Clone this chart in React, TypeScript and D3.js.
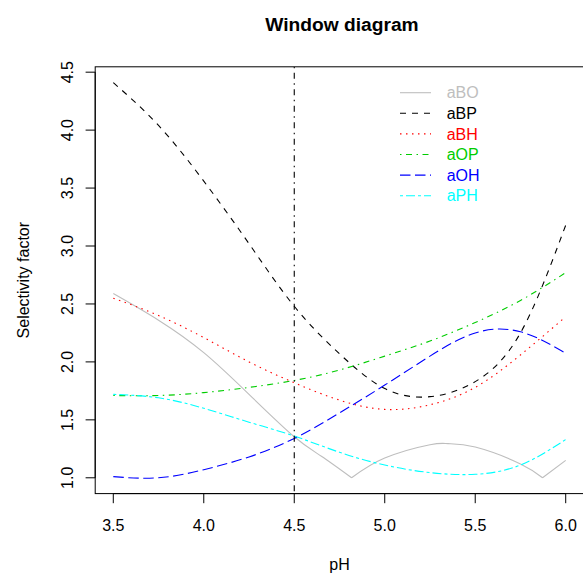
import React from 'react';
import * as d3 from 'd3';

// pH grid shared by the smooth curves
const ph = [3.5, 3.75, 4.0, 4.25, 4.5, 4.75, 5.0, 5.25, 5.5, 5.75, 6.0];
const aBP = [4.41, 4.04, 3.56, 3.02, 2.48, 2.07, 1.77, 1.7, 1.83, 2.25, 3.18];
const aBH = [2.55, 2.4, 2.21, 2.0, 1.82, 1.67, 1.59, 1.63, 1.78, 2.06, 2.39];
const aOP = [1.71, 1.71, 1.735, 1.78, 1.84, 1.93, 2.05, 2.18, 2.34, 2.53, 2.77];
const aOH = [1.01, 1.0, 1.07, 1.18, 1.34, 1.56, 1.8, 2.05, 2.25, 2.26, 2.075];
const aPH = [1.72, 1.69, 1.6, 1.48, 1.36, 1.22, 1.11, 1.045, 1.03, 1.11, 1.33];

// aBO has two kinks where the factor touches 1, so it has its own pH points
const phBO = [3.5, 3.75, 4.0, 4.25, 4.5, 4.65, 4.817, 5.0, 5.25, 5.35, 5.5, 5.75, 5.872, 6.0];
const aBO = [2.59, 2.36, 2.08, 1.72, 1.354, 1.186, 1.0, 1.17, 1.285, 1.295, 1.265, 1.12, 1.0, 1.15];

const seriesNames = ['aBO', 'aBP', 'aBH', 'aOP', 'aOH', 'aPH'];
const seriesColors = ['#BEBEBE', '#000000', '#FF0000', '#00CD00', '#0000FF', '#00FFFF'];
const xTicks = [3.5, 4.0, 4.5, 5.0, 5.5, 6.0];
const yTicks = [1.0, 1.5, 2.0, 2.5, 3.0, 3.5, 4.0, 4.5];
const windowPH = 4.5;

const s = 1.5;
const dashes = ['', `${4 * s},${4 * s}`, `${1 * s},${3 * s}`, `${1 * s},${3 * s},${4 * s},${3 * s}`, `${7 * s},${3 * s}`, `${2 * s},${2 * s},${6 * s},${2 * s}`];

const font = "'Liberation Sans', Arial, Helvetica, sans-serif";

const App = () => {
  const W = 583;
  const H = 573;
  const left = 95.2, right = 583.8, top = 66.8, bottom = 493.6;

  const allVals = [...aBO, ...aBP, ...aBH, ...aOP, ...aOH, ...aPH];
  const [yMin, yMax] = d3.extent(allVals) as [number, number];
  const yPad = (yMax - yMin) * 0.04;
  const xPad = (6.0 - 3.5) * 0.04;

  const x = d3.scaleLinear().domain([3.5 - xPad, 6.0 + xPad]).range([left, right]);
  const y = d3.scaleLinear().domain([yMin - yPad, yMax + yPad]).range([bottom, top]);

  const line = d3.line<[number, number]>()
    .x(d => x(d[0]))
    .y(d => y(d[1]))
    .curve(d3.curveNatural);

  const zip = (xs: number[], ys: number[]) => xs.map((v, i) => [v, ys[i]] as [number, number]);

  // split aBO at its local minima so the kinks stay sharp
  const boPts = zip(phBO, aBO);
  const boSegs: [number, number][][] = [];
  let start = 0;
  for (let i = 1; i < boPts.length - 1; i++) {
    if (aBO[i] < aBO[i - 1] && aBO[i] < aBO[i + 1]) {
      boSegs.push(boPts.slice(start, i + 1));
      start = i;
    }
  }
  boSegs.push(boPts.slice(start));
  const boPath = boSegs.map(seg => line(seg)).join('');

  const curves = [aBP, aBH, aOP, aOH, aPH];
  const paths = [boPath, ...curves.map(c => line(zip(ph, c)) as string)];

  const legendX = 400, legendY = 92.7, legendStep = 20.6;

  return (
    <svg width={W} height={H} style={{ position: 'absolute', left: 0, top: 0 }} fontFamily={font}>
      <rect width={W} height={H} fill="#fff" />
      <defs>
        <clipPath id="plotClip">
          <rect x={left} y={top} width={right - left} height={bottom - top} />
        </clipPath>
      </defs>

      {/* curves */}
      <g clipPath="url(#plotClip)" fill="none" strokeWidth={1.1}>
        {paths.map((p, i) => (
          <path key={seriesNames[i]} d={p} stroke={seriesColors[i]} strokeDasharray={dashes[i] || undefined} />
        ))}
        <line x1={x(windowPH)} x2={x(windowPH)} y1={top} y2={bottom} stroke="#000" strokeDasharray={dashes[3]} />
      </g>

      {/* box */}
      <rect x={left} y={top} width={right - left} height={bottom - top} fill="none" stroke="#000" strokeWidth={1} />

      {/* x axis */}
      <g stroke="#000" strokeWidth={1}>
        <line x1={x(xTicks[0])} x2={x(xTicks[xTicks.length - 1])} y1={bottom} y2={bottom} />
        {xTicks.map(t => <line key={t} x1={x(t)} x2={x(t)} y1={bottom} y2={bottom + 9.6} />)}
      </g>
      {xTicks.map(t => (
        <text key={t} x={x(t)} y={531} textAnchor="middle" fontSize={16}>{t.toFixed(1)}</text>
      ))}

      {/* y axis */}
      <g stroke="#000" strokeWidth={1}>
        <line x1={left} x2={left} y1={y(yTicks[0])} y2={y(yTicks[yTicks.length - 1])} />
        {yTicks.map(t => <line key={t} x1={left} x2={left - 9.6} y1={y(t)} y2={y(t)} />)}
      </g>
      {yTicks.map(t => (
        <text key={t} transform={`translate(72.5,${y(t)}) rotate(-90)`} textAnchor="middle" fontSize={16}>{t.toFixed(1)}</text>
      ))}

      {/* titles */}
      <text x={342} y={31} textAnchor="middle" fontSize={19.2} fontWeight="bold">Window diagram</text>
      <text x={(left + right) / 2} y={570} textAnchor="middle" fontSize={16}>pH</text>
      <text transform={`translate(28.8,${(top + bottom) / 2}) rotate(-90)`} textAnchor="middle" fontSize={16}>Selectivity factor</text>

      {/* legend */}
      {seriesNames.map((n, i) => (
        <g key={n} transform={`translate(0,${legendY + i * legendStep})`}>
          <line x1={legendX} x2={legendX + 31} y1={0} y2={0} stroke={seriesColors[i]} strokeWidth={1.1} strokeDasharray={dashes[i] || undefined} />
          <text x={446.7} y={5.7} fontSize={16} fill={seriesColors[i]}>{n}</text>
        </g>
      ))}
    </svg>
  );
};

export default App;
